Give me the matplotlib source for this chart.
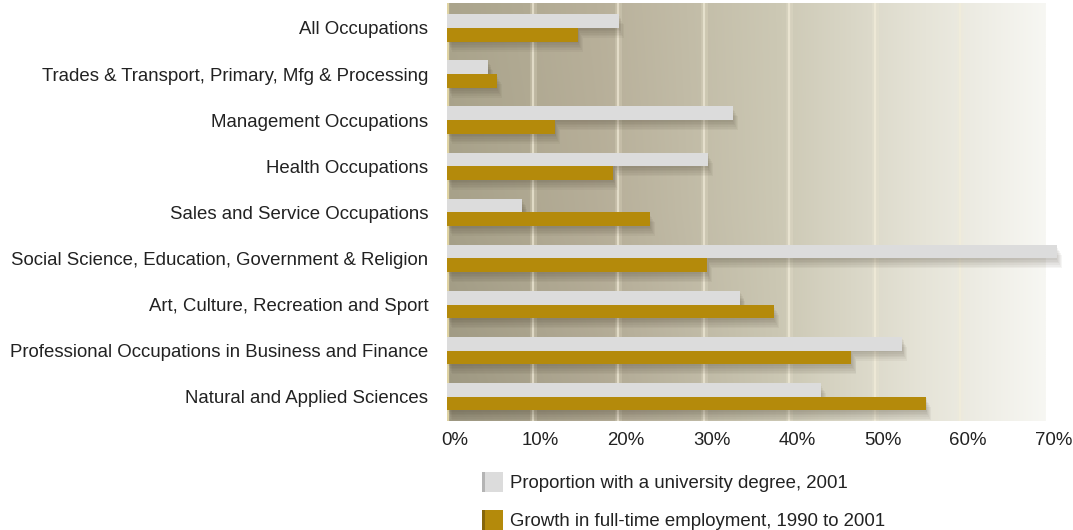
import numpy as np
import matplotlib.pyplot as plt
from matplotlib.patches import Rectangle
from matplotlib.transforms import ScaledTranslation
import matplotlib.patheffects as pe

plt.rcParams['font.family'] = ['Liberation Sans', 'DejaVu Sans']

occupations = [
    'All Occupations',
    'Trades & Transport, Primary, Mfg & Processing',
    'Management Occupations',
    'Health Occupations',
    'Sales and Service Occupations',
    'Social Science, Education, Government & Religion',
    'Art, Culture, Recreation and Sport',
    'Professional Occupations in Business and Finance',
    'Natural and Applied Sciences',
]
degree_share = [20.1, 4.8, 33.4, 30.5, 8.8, 71.3, 34.3, 53.2, 43.7]
employment_growth = [15.3, 5.8, 12.6, 19.4, 23.7, 30.4, 38.2, 47.3, 56.0]
xticks = [0, 10, 20, 30, 40, 50, 60, 70]
xtick_labels = ['0%', '10%', '20%', '30%', '40%', '50%', '60%', '70%']
legend_labels = ['Proportion with a university degree, 2001',
                 'Growth in full-time employment, 1990 to 2001']

GREY = '#dcdcdc'
GOLD = '#b48a0b'
TEXT = '#222222'
FS = 13.4

fig = plt.figure(figsize=(10.73, 5.30), dpi=100)
ax = fig.add_axes([447 / 1073, 1 - 421 / 530, 598.5 / 1073, 418 / 530])

ytop, ybot = -0.542, 8.525

# textured backdrop: olive/brown on the left fading to near white on the right
xs = np.linspace(0, 1, 400)
ys = np.linspace(0, 1, 200)
r = np.interp(xs, [0, 0.25, 0.55, 0.8, 1.0], [170, 184, 204, 230, 247])
g = np.interp(xs, [0, 0.25, 0.55, 0.8, 1.0], [164, 176, 200, 228, 247])
b = np.interp(xs, [0, 0.25, 0.55, 0.8, 1.0], [140, 154, 180, 216, 243])
shade = np.interp(ys, [0, 0.5, 1.0], [1.0, 0.98, 0.92])[:, None]
fade = np.clip(xs * 1.6, 0, 1)[None, :]
k = shade + (1 - shade) * fade
bg = np.dstack([r[None, :] * k, g[None, :] * k, b[None, :] * k]) / 255.0
ax.imshow(np.clip(bg, 0, 1), extent=[0, 70, ybot, ytop], aspect='auto',
          zorder=0, interpolation='bilinear')

for xv in xticks[1:-1]:
    ax.axvline(xv, color='#f2ecd6', lw=5, alpha=0.2, zorder=1)
    ax.axvline(xv, color='#f4eedb', lw=1.6, alpha=0.65, zorder=1)
ax.axvline(0.15, color='#e6d9a6', lw=1.6, alpha=0.9, zorder=1)

y = np.arange(len(occupations))
h = 0.297
shadow = [pe.SimplePatchShadow(offset=(0.6 * o, -1.2 * o), alpha=0.045,
                               shadow_rgbFace='#2a2010')
          for o in (1, 2, 3, 4, 5, 6)] + [pe.Normal()]

ax.barh(y - h / 2, degree_share, height=h, color=GREY, zorder=3,
        clip_on=False, path_effects=shadow)
ax.barh(y + h / 2, employment_growth, height=h, color=GOLD, zorder=3,
        clip_on=False, path_effects=shadow)

ax.set_xlim(0, 70)
ax.set_ylim(ybot, ytop)
ax.set_yticks(y)
ax.set_yticklabels(occupations, fontsize=FS, color=TEXT)
ax.set_xticks(xticks)
ax.set_xticklabels(xtick_labels, fontsize=FS, color=TEXT)
ax.tick_params(axis='both', length=0)
ax.tick_params(axis='y', pad=13.5)
ax.tick_params(axis='x', pad=8)
for lab in ax.get_xticklabels():
    lab.set_transform(lab.get_transform() + ScaledTranslation(0.08, 0, fig.dpi_scale_trans))
for s in ax.spines.values():
    s.set_visible(False)

# legend swatches with a darker left edge
W, H = 1073.0, 530.0
swatches = [(472, GREY, '#b4b4b4'), (510, GOLD, '#86660a')]
for (top, face, edge), label in zip(swatches, legend_labels):
    fig.add_artist(Rectangle((482 / W, 1 - (top + 20) / H), 21 / W, 20 / H,
                             transform=fig.transFigure, facecolor=face, lw=0))
    fig.add_artist(Rectangle((482 / W, 1 - (top + 20) / H), 3 / W, 20 / H,
                             transform=fig.transFigure, facecolor=edge, lw=0))
    fig.text(510 / W, 1 - (top + 11) / H, label, fontsize=FS, color=TEXT,
             va='center', ha='left')

fig.savefig('out.png', dpi=100)
